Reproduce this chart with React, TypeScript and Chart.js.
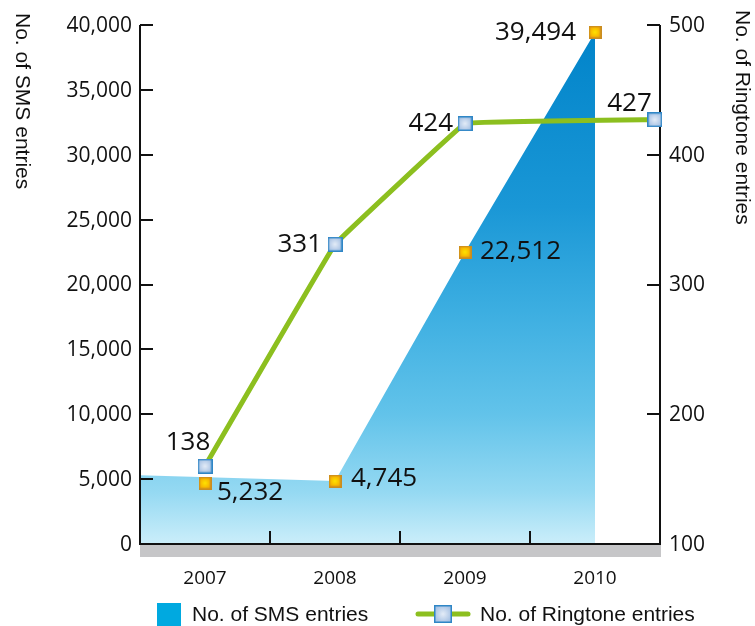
import React, { useEffect, useRef } from "react";
import { Chart, registerables } from "chart.js";

Chart.register(...registerables);

// ---- data ----
const years = [2007, 2008, 2009, 2010];
const yearLabels = ["2007", "2008", "2009", "2010"];
const smsEdgeX = [2006.5, 2008, 2009, 2010];
const smsEdgeValues = [5300, 4850, 22500, 39450];
const smsMarkerValues = [4700, 4850, 22500, 39450];
const smsLabels = ["5,232", "4,745", "22,512", "39,494"];
const ringtoneX = [2007, 2008, 2009, 2010.46];
const ringtoneValues = [160, 331, 424, 427];
const ringtoneLabels = ["138", "331", "424", "427"];
const smsTicks = [0, 5000, 10000, 15000, 20000, 25000, 30000, 35000, 40000];
const ringtoneTicks = [100, 200, 300, 400, 500];
const xTickMarks = [2007.5, 2008.5, 2009.5];
const smsTitle = "No. of SMS entries";
const ringtoneTitle = "No. of Ringtone entries";

const NUM_FONT = '"Open Sans", "DejaVu Sans", sans-serif';
const TXT_FONT = '"Liberation Sans", Arial, sans-serif';

// label placement (layout only)
const smsLabelPos: [number, number, CanvasTextAlign][] = [
  [12, 10, "left"],
  [16, -2, "left"],
  [15, 0, "left"],
  [-19, 0, "right"],
];
const ringLabelPos: [number, number, CanvasTextAlign][] = [
  [-17, -24, "center"],
  [-13, 0, "right"],
  [-12, 0, "right"],
  [-3, -16, "right"],
];

function makeMarker(size: number, border: string, c1: string, c2: string, bw: number) {
  const cv = document.createElement("canvas");
  cv.width = size;
  cv.height = size;
  const c = cv.getContext("2d")!;
  const g = c.createRadialGradient(size / 2, size / 2, 0, size / 2, size / 2, size / 2);
  g.addColorStop(0, c1);
  g.addColorStop(1, c2);
  c.fillStyle = g;
  c.fillRect(0, 0, size, size);
  c.strokeStyle = border;
  c.lineWidth = bw;
  c.strokeRect(bw / 2, bw / 2, size - bw, size - bw);
  return cv;
}

function fmt(n: number) {
  return n.toLocaleString("en-US");
}

export default function App() {
  const ref = useRef<HTMLCanvasElement | null>(null);

  useEffect(() => {
    if (!ref.current) return;
    const smsMarker = makeMarker(13, "#c98c22", "#ffe400", "#f4a600", 1.5);
    const ringMarker = makeMarker(15, "#2f86c6", "#e4ecf7", "#a7c2e4", 1.5);

    const axesPlugin = {
      id: "customAxes",
      afterDatasetDraw(chart: any, args: any) {
        if (args.index !== 0) return;
        const c: CanvasRenderingContext2D = chart.ctx;
        const { left, right, top, bottom } = chart.chartArea;
        const x = chart.scales.x;
        const y = chart.scales.y;
        const y2 = chart.scales.y2;
        c.save();
        // grey band
        c.fillStyle = "#c6c6c8";
        c.fillRect(left, bottom, right - left + 1, 13);
        c.strokeStyle = "#111";
        c.lineWidth = 2;
        c.beginPath();
        c.moveTo(left, top);
        c.lineTo(left, bottom);
        c.lineTo(right, bottom);
        c.lineTo(right, top);
        c.stroke();
        // ticks (pointing inward)
        c.lineWidth = 2;
        c.beginPath();
        smsTicks.forEach((t) => {
          if (t === 0) return;
          const py = Math.round(y.getPixelForValue(t));
          c.moveTo(left, py);
          c.lineTo(left + 13, py);
        });
        ringtoneTicks.forEach((t) => {
          if (t === 100) return;
          const py = Math.round(y2.getPixelForValue(t));
          c.moveTo(right, py);
          c.lineTo(right - 13, py);
        });
        xTickMarks.forEach((t) => {
          const px = Math.round(x.getPixelForValue(t));
          c.moveTo(px, bottom);
          c.lineTo(px, bottom - 13);
        });
        c.stroke();
        c.restore();
      },
      afterDraw(chart: any) {
        const c: CanvasRenderingContext2D = chart.ctx;
        const { left, right, bottom } = chart.chartArea;
        const x = chart.scales.x;
        const y = chart.scales.y;
        const y2 = chart.scales.y2;
        c.save();
        c.fillStyle = "#111";
        c.font = `21px ${NUM_FONT}`;
        c.textBaseline = "middle";
        c.textAlign = "right";
        smsTicks.forEach((t) => c.fillText(fmt(t), left - 8, y.getPixelForValue(t) + 1));
        c.textAlign = "left";
        ringtoneTicks.forEach((t) => c.fillText(String(t), right + 9, y2.getPixelForValue(t) + 1));
        c.font = `19px ${NUM_FONT}`;
        c.textAlign = "center";
        years.forEach((yr, i) => c.fillText(yearLabels[i], x.getPixelForValue(yr), bottom + 35));
        // axis titles (rotated, reading top to bottom)
        c.font = `21px ${TXT_FONT}`;
        c.textAlign = "left";
        c.textBaseline = "alphabetic";
        c.save();
        c.translate(16, 13);
        c.rotate(Math.PI / 2);
        c.fillText(smsTitle, 0, 0);
        c.restore();
        c.save();
        c.translate(736, 10);
        c.rotate(Math.PI / 2);
        c.fillText(ringtoneTitle, 0, 0);
        c.restore();
        // legend
        c.fillStyle = "#00a9e0";
        c.fillRect(157, 603, 24, 23);
        c.fillStyle = "#111";
        c.textBaseline = "middle";
        c.fillText(smsTitle, 192, 615);
        c.strokeStyle = "#8cbf1f";
        c.lineWidth = 5;
        c.lineCap = "round";
        c.beginPath();
        c.moveTo(418, 614);
        c.lineTo(468, 614);
        c.stroke();
        const lg = makeMarker(18, "#2f86c6", "#e4ecf7", "#a7c2e4", 1.5);
        c.drawImage(lg, 434, 605);
        c.fillText(ringtoneTitle, 480, 615);
        c.restore();
      },
      afterDatasetsDraw(chart: any) {
        const c: CanvasRenderingContext2D = chart.ctx;
        c.save();
        c.fillStyle = "#111";
        c.font = `26px ${NUM_FONT}`;
        c.textBaseline = "middle";
        const smsMeta = chart.getDatasetMeta(2);
        smsMeta.data.forEach((pt: any, i: number) => {
          const [dx, dy, al] = smsLabelPos[i];
          c.textAlign = al;
          c.fillText(smsLabels[i], pt.x + dx, pt.y + dy);
        });
        const rMeta = chart.getDatasetMeta(1);
        rMeta.data.forEach((pt: any, i: number) => {
          const [dx, dy, al] = ringLabelPos[i];
          c.textAlign = al;
          c.fillText(ringtoneLabels[i], pt.x + dx, pt.y + dy);
        });
        c.restore();
      },
    };

    const chart = new Chart(ref.current, {
      type: "line",
      data: {
        datasets: [
          {
            label: "area",
            data: smsEdgeX.map((xv, i) => ({ x: xv, y: smsEdgeValues[i] })),
            yAxisID: "y",
            fill: "origin",
            borderWidth: 0,
            pointRadius: 0,
            tension: 0,
            order: 3,
            backgroundColor: (ctx: any) => {
              const { chart } = ctx;
              const area = chart.chartArea;
              if (!area) return "#3aa9df";
              const g = chart.ctx.createLinearGradient(0, area.top, 0, area.bottom);
              g.addColorStop(0, "#0083c9");
              g.addColorStop(0.35, "#1a97d6");
              g.addColorStop(0.55, "#3caee1");
              g.addColorStop(0.75, "#62c3ea");
              g.addColorStop(0.9, "#95d9f2");
              g.addColorStop(1, "#cbeefa");
              return g;
            },
          } as any,
          {
            label: ringtoneTitle,
            data: ringtoneX.map((xv, i) => ({ x: xv, y: ringtoneValues[i] })),
            yAxisID: "y2",
            borderColor: "#8cbf1f",
            borderWidth: 5,
            tension: 0.03,
            fill: false,
            pointStyle: ringMarker as any,
            pointRadius: 7,
            order: 2,
            clip: false,
          } as any,
          {
            label: smsTitle,
            data: years.map((xv, i) => ({ x: xv, y: smsMarkerValues[i] })),
            yAxisID: "y",
            showLine: false,
            pointStyle: smsMarker as any,
            pointRadius: 6,
            order: 1,
            clip: false,
          } as any,
        ],
      },
      options: {
        responsive: false,
        animation: false,
        layout: { padding: { left: 140, right: 95, top: 25, bottom: 82 } },
        plugins: { legend: { display: false }, tooltip: { enabled: false } },
        events: [],
        scales: {
          x: { type: "linear", min: 2006.5, max: 2010.5, display: false },
          y: { type: "linear", min: 0, max: 40000, display: false },
          y2: { type: "linear", min: 100, max: 500, display: false, position: "right" },
        },
      },
      plugins: [axesPlugin],
    });
    return () => chart.destroy();
  }, []);

  return (
    <div style={{ position: "fixed", left: 0, top: 0, width: 755, height: 626, background: "#fff" }}>
      <canvas ref={ref} width={755} height={626} style={{ display: "block" }} />
    </div>
  );
}
